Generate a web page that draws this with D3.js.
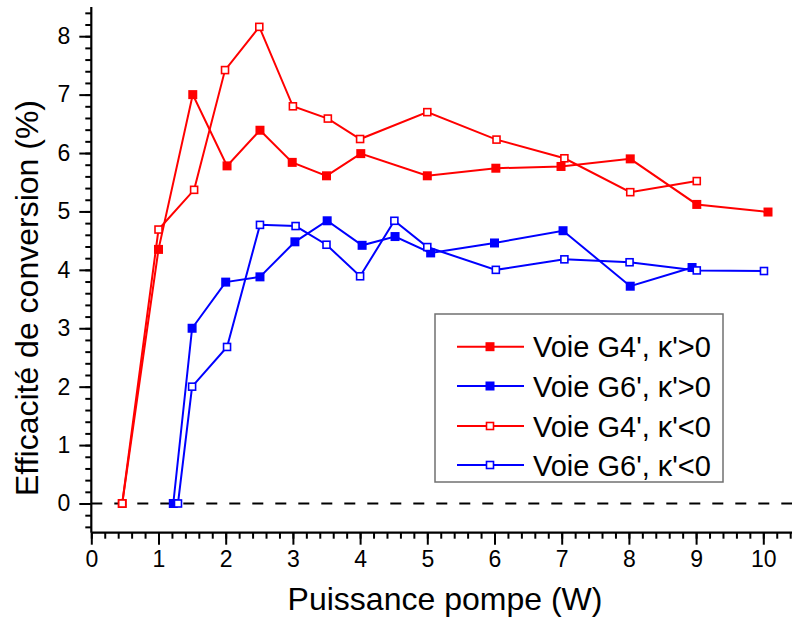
<!DOCTYPE html>
<html><head><meta charset="utf-8">
<script src="https://cdn.jsdelivr.net/npm/d3@7"></script>
<style>body{margin:0;background:#fff}svg{display:block;font-family:"Liberation Sans",Arial,sans-serif}</style>
</head><body><svg id="c" width="792" height="619"></svg>
<script>
// Data
const g4PosX = [0.46, 1.0, 1.51, 2.02, 2.51, 2.99, 3.5, 4.01, 5.0, 6.02, 6.99, 8.02, 9.01, 10.07];
const g4PosY = [0, 4.35, 7.0, 5.78, 6.39, 5.84, 5.61, 5.99, 5.61, 5.74, 5.77, 5.90, 5.12, 4.99];
const g6PosX = [1.22, 1.5, 2.0, 2.51, 3.03, 3.51, 4.03, 4.52, 5.05, 6.0, 7.02, 8.02, 8.94];
const g6PosY = [0, 3.0, 3.79, 3.88, 4.48, 4.84, 4.42, 4.57, 4.29, 4.46, 4.67, 3.72, 4.04];
const g4NegX = [0.46, 1.0, 1.53, 1.99, 2.5, 3.0, 3.52, 4.0, 5.0, 6.03, 7.04, 8.02, 9.01];
const g4NegY = [0, 4.69, 5.37, 7.42, 8.16, 6.80, 6.59, 6.24, 6.70, 6.23, 5.91, 5.33, 5.52];
const g6NegX = [1.29, 1.5, 2.02, 2.51, 3.04, 3.5, 4.0, 4.51, 5.0, 6.02, 7.04, 8.01, 9.01, 10.01];
const g6NegY = [0, 2.0, 2.68, 4.77, 4.75, 4.43, 3.89, 4.84, 4.39, 4.0, 4.18, 4.13, 3.99, 3.98];
const seriesNames = ["Voie G4', κ'>0", "Voie G6', κ'>0", "Voie G4', κ'<0", "Voie G6', κ'<0"];
const seriesColors = ["#ff0000", "#0000ff", "#ff0000", "#0000ff"];
const seriesFilled = [true, true, false, false];
const xTicks = [0,1,2,3,4,5,6,7,8,9,10];
const yTicks = [0,1,2,3,4,5,6,7,8];
const xLabel = "Puissance pompe (W)";
const yLabel = "Efficacité de conversion (%)";

const series = [
  {x: g4PosX, y: g4PosY}, {x: g6PosX, y: g6PosY},
  {x: g4NegX, y: g4NegY}, {x: g6NegX, y: g6NegY}
].map((s, i) => ({name: seriesNames[i], color: seriesColors[i], filled: seriesFilled[i],
  pts: s.x.map((v, j) => [v, s.y[j]])}));

const svg = d3.select("#c");
const x = d3.scaleLinear().domain([0, 10.5]).range([91.3, 91.3 + 10.5 * 67.2]);
const y = d3.scaleLinear().domain([-0.5, 8.5]).range([532.7, 7]);

// zero dashed line
svg.append("line").attr("x1", x(0)).attr("x2", 792).attr("y1", y(0)).attr("y2", y(0))
  .attr("stroke", "#000").attr("stroke-width", 2.2).attr("stroke-dasharray", "11,12");

const line = d3.line().x(d => x(d[0])).y(d => y(d[1]));
series.forEach(s => {
  svg.append("path").attr("d", line(s.pts)).attr("fill", "none")
    .attr("stroke", s.color).attr("stroke-width", 2);
});
series.forEach(s => {
  const g = svg.append("g");
  s.pts.forEach(p => {
    if (s.filled) {
      g.append("rect").attr("x", x(p[0]) - 4.5).attr("y", y(p[1]) - 4.5)
        .attr("width", 9).attr("height", 9).attr("fill", s.color);
    } else {
      g.append("rect").attr("x", x(p[0]) - 3.5).attr("y", y(p[1]) - 3.5)
        .attr("width", 7).attr("height", 7).attr("fill", "#fff")
        .attr("stroke", s.color).attr("stroke-width", 1.6);
    }
  });
});

// axes
const xMinor = d3.range(0, 10.5, 0.2).map(v => +v.toFixed(1));
const yMinor = d3.range(-0.4, 8.5, 0.2).map(v => +v.toFixed(1));
const xAxisMinor = d3.axisBottom(x).tickValues(xMinor).tickSize(6).tickFormat("");
const xAxis = d3.axisBottom(x).tickValues(xTicks).tickSize(12).tickPadding(6).tickFormat(d3.format("d"));
const yAxisMinor = d3.axisLeft(y).tickValues(yMinor).tickSize(6).tickFormat("");
const yAxis = d3.axisLeft(y).tickValues(yTicks).tickSize(12).tickPadding(9).tickFormat(d3.format("d"));

function style(g) {
  g.select(".domain").remove();
  g.selectAll("line").attr("stroke", "#000").attr("stroke-width", 2);
  g.selectAll("text").attr("fill", "#000").style("font-size", "23px")
    .style("font-family", '"Liberation Sans", Arial, sans-serif');
}
svg.append("g").attr("transform", `translate(0,${y(-0.5)})`).call(xAxisMinor).call(style);
svg.append("g").attr("transform", `translate(0,${y(-0.5)})`).call(xAxis).call(style);
svg.append("g").attr("transform", `translate(${x(0)},0)`).call(yAxisMinor).call(style);
svg.append("g").attr("transform", `translate(${x(0)},0)`).call(yAxis).call(style);
// axis lines
svg.append("line").attr("x1", x(0)).attr("x2", 792).attr("y1", y(-0.5)).attr("y2", y(-0.5))
  .attr("stroke", "#000").attr("stroke-width", 2.2);
svg.append("line").attr("x1", x(0)).attr("x2", x(0)).attr("y1", y(8.5)).attr("y2", y(-0.5))
  .attr("stroke", "#000").attr("stroke-width", 2.2);

// axis titles
svg.append("text").attr("x", 445).attr("y", 610).attr("text-anchor", "middle")
  .style("font-size", "32px").text(xLabel);
svg.append("text").attr("transform", "translate(38,298) rotate(-90)").attr("text-anchor", "middle")
  .style("font-size", "32px").text(yLabel);

// legend
const lg = svg.append("g");
lg.append("rect").attr("x", 435).attr("y", 314).attr("width", 288).attr("height", 168)
  .attr("fill", "#fff").attr("stroke", "#707070").attr("stroke-width", 1.5);
const ly = [346.7, 386, 426, 465];
series.forEach((s, i) => {
  lg.append("line").attr("x1", 457).attr("x2", 524).attr("y1", ly[i]).attr("y2", ly[i])
    .attr("stroke", s.color).attr("stroke-width", 2);
  if (s.filled) {
    lg.append("rect").attr("x", 490 - 4.5).attr("y", ly[i] - 4.5).attr("width", 9).attr("height", 9).attr("fill", s.color);
  } else {
    lg.append("rect").attr("x", 490 - 3.5).attr("y", ly[i] - 3.5).attr("width", 7).attr("height", 7)
      .attr("fill", "#fff").attr("stroke", s.color).attr("stroke-width", 1.6);
  }
  lg.append("text").attr("x", 533).attr("y", ly[i] + 10.5).style("font-size", "29px").text(s.name);
});
</script></body></html>
